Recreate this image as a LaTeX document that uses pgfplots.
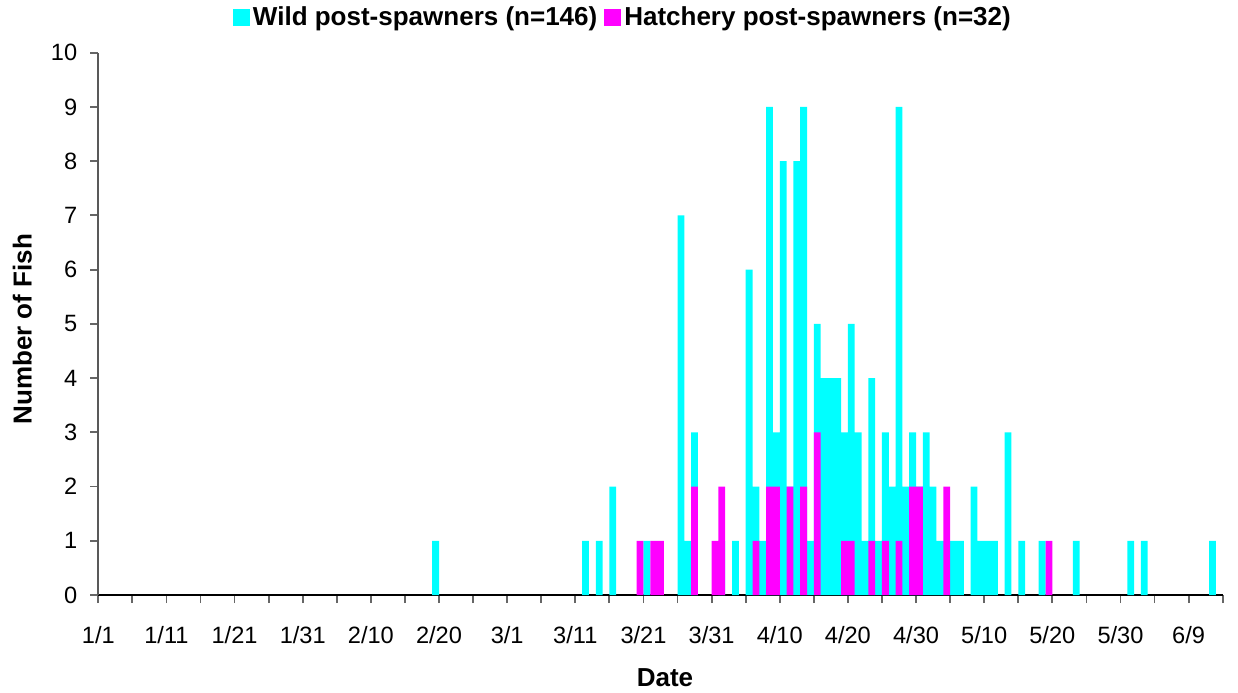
\documentclass[border=0pt]{standalone}
\usepackage{pgfplots}
\usepackage{pgfplotstable}
\pgfplotsset{compat=1.18}
\usepackage{fontspec}
\setmainfont{Liberation Sans}

% day of year (1/1 = 0), fish counted that day
\pgfplotstableread{
day n
49 1
71 1
73 1
75 2
80 1
85 7
86 1
87 3
91 1
93 1
95 6
96 2
97 1
98 9
99 3
100 8
101 2
102 8
103 9
104 1
105 5
106 4
107 4
108 4
109 3
110 5
111 3
112 1
113 4
114 1
115 3
116 2
117 9
118 2
119 3
120 2
121 3
122 2
123 1
124 1
125 1
126 1
128 2
129 1
130 1
131 1
133 3
135 1
138 1
143 1
151 1
153 1
163 1
}\wild

\pgfplotstableread{
day n
79 1
81 1
82 1
87 2
90 1
91 2
96 1
98 2
99 2
101 2
103 2
105 3
109 1
110 1
113 1
115 1
117 1
119 2
120 2
124 2
139 1
}\hatchery

\definecolor{wildc}{RGB}{0,255,255}
\definecolor{hatchc}{RGB}{255,0,255}

\pgfplotsset{
  sqlegend/.style={legend image code/.code={
    \fill[##1] (0pt,-4.25pt) rectangle (8.5pt,4.25pt);}},
}

\begin{document}
\begin{tikzpicture}
\useasboundingbox (-49.15pt,-48.5pt) rectangle (569.85pt,297.5pt);
\begin{axis}[
    at={(0,0)}, anchor=south west,
    scale only axis,
    width=562.2pt, height=271.15pt,
    ybar, bar width=1, bar shift=0pt,
    xmin=0, xmax=165,
    ymin=0, ymax=10,
    axis x line*=bottom, axis y line*=left,
    x axis line style={black, line width=0.9pt},
    y axis line style={black!65, line width=0.9pt},
    tick align=outside,
    major tick length=4pt, minor tick length=4pt,
    tick style={black!60, line width=0.9pt},
    xtick={0,10,...,160},
    minor xtick={5,15,...,165},
    xticklabels={1/1,1/11,1/21,1/31,2/10,2/20,3/1,3/11,3/21,3/31,4/10,4/20,4/30,5/10,5/20,5/30,6/9},
    ytick={0,1,...,10},
    /pgf/number format/assume math mode=true,
    tick label style={font=\fontsize{11.8}{13}\selectfont, text=black},
    xticklabel style={anchor=base, yshift=-20pt},
    yticklabel style={anchor=east, xshift=-3pt},
    xlabel={Date},
    ylabel={Number of Fish},
    every axis x label/.style={at={(axis description cs:0.504,0)}, anchor=center,
      yshift=-41.5pt, font=\fontsize{13}{15}\selectfont\bfseries},
    every axis y label/.style={at={(axis description cs:-0.0676,0.49)}, anchor=center,
      rotate=90, font=\fontsize{13}{15}\selectfont\bfseries},
    legend columns=2,
    legend style={at={(axis description cs:0.467,1.064)}, anchor=center,
      draw=none, fill=none, font=\fontsize{13}{15}\selectfont\bfseries,
      nodes={inner sep=1.5pt},
      /tikz/every even column/.style={column sep=2pt}},
]
\addplot[fill=wildc, draw=none, sqlegend] table[x expr=\thisrow{day}+0.5, y=n] {\wild};
\addlegendentry{Wild post-spawners (n=146)}
\addplot[fill=hatchc, draw=none, sqlegend] table[x expr=\thisrow{day}+0.5, y=n] {\hatchery};
\addlegendentry{Hatchery post-spawners (n=32)}
\end{axis}
\end{tikzpicture}
\end{document}
